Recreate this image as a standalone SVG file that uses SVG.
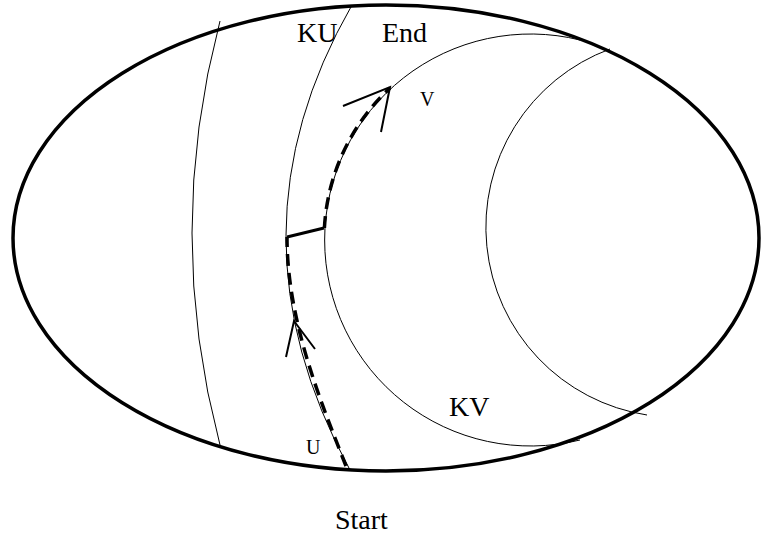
<svg xmlns="http://www.w3.org/2000/svg" width="765" height="536" viewBox="0 0 765 536">
<style>
.thin{fill:none;stroke:#000;stroke-width:1}
.thick{fill:none;stroke:#000;stroke-width:3.5}
.dash{fill:none;stroke:#000;stroke-width:3.5;stroke-dasharray:12 7}
.arr{fill:none;stroke:#000;stroke-width:2;stroke-linejoin:miter}
.t{font-family:"Liberation Serif","Times New Roman",serif;fill:#000}
</style>
<rect width="765" height="536" fill="#fff"/>
<g id="region">
<ellipse class="thick" cx="386" cy="238" rx="373" ry="233"/>
</g>
<g id="curves">
<path class="thin" d="M220,21 Q164,233 220,445"/>
<path class="thin" d="M352,5 Q221,233 350,470"/>
<path class="thin" d="M580,40 A206,206 0 1,0 580,440"/>
<path class="thin" d="M610,49 A190,190 0 0,0 647,415"/>
</g>
<g id="connectors">
<path class="dash" d="M346,466 C320,400 287,320 287,237"/>
<path class="arr" d="M287,237 L324,228" style="stroke-width:3"/>
<path class="dash" d="M324.4,228 A206,206 0 0,1 390,88"/>
<path class="arr" d="M343,106 L390,87 L381,132"/>
<path class="arr" d="M286,357 L294,321 L315,349"/>
</g>
<g id="labels">
<text class="t" x="297" y="42" font-size="28">KU</text>
<text class="t" x="382" y="42" font-size="28">End</text>
<text class="t" x="420" y="106" font-size="20">V</text>
<text class="t" x="449" y="416" font-size="28">KV</text>
<text class="t" x="306" y="454" font-size="20">U</text>
<text class="t" x="335" y="529" font-size="28">Start</text>
</g>
</svg>
